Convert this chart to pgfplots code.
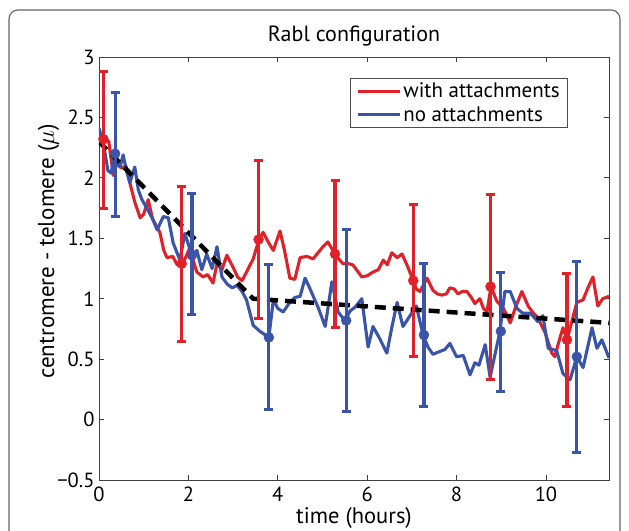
\documentclass[border=0pt]{standalone}
\usepackage{fontspec}
\setmainfont{PT Sans}
\usepackage{pgfplots}
\pgfplotsset{compat=1.18}
\definecolor{cred}{RGB}{224,34,40}
\definecolor{cblue}{RGB}{58,84,170}
\definecolor{frame}{RGB}{100,100,100}
\begin{document}
\begin{tikzpicture}[x=1pt,y=1pt]
\useasboundingbox (0,0) rectangle (629,530);
\draw[frame, line width=1.1pt, rounded corners=9pt] (9,-20) rectangle (620,520);
\begin{axis}[
  at={(99pt,50pt)}, anchor=south west,
  scale only axis, width=510pt, height=423pt,
  xmin=0, xmax=11.41, ymin=-0.5, ymax=3,
  xtick={0,2,4,6,8,10},
  ytick={-0.5,0,0.5,1,1.5,2,2.5,3},
  yticklabels={−0.5,0,0.5,1,1.5,2,2.5,3},
  xticklabels={0,2,4,6,8,10},
  tick align=inside, major tick length=5pt,
  axis line style={draw=black!75, line width=0.9pt},
  tick style={draw=black!75, line width=0.9pt},
  tick label style={font=\fontsize{20.5}{24}\selectfont},
  yticklabel style={xshift=-1pt},
  xticklabel style={yshift=-3pt},
  title={Rabl configuration},
  title style={at={(axis description cs:0.5,1.022)}, anchor=base, font=\fontsize{22}{26}\selectfont},
  xlabel={time (hours)},
  xlabel style={at={(axis description cs:0.5,-0.104)}, anchor=base, font=\fontsize{22.5}{26}\selectfont},
  ylabel={centromere - telomere ($\mu$)},
  ylabel style={at={(axis description cs:-0.088,0.54)}, anchor=base, font=\fontsize{23}{26}\selectfont},
  legend style={at={(axis description cs:0.92,0.951)}, anchor=north east, draw=black!70, line width=0.8pt,
    font=\fontsize{21}{25}\selectfont, inner xsep=6pt, inner ysep=3pt, row sep=3pt, cells={anchor=west}},
  legend image code/.code={\draw[#1] (0pt,0pt) -- (42pt,0pt);},
]
\addplot[cred, line width=3.1pt, line join=round] coordinates {
(0.00,2.33)(0.10,2.33)(0.22,2.30)(0.32,2.02)(0.40,2.12)(0.50,2.08)(0.60,2.10)(0.69,1.96)
(0.80,1.80)(0.92,1.67)(1.00,1.70)(1.10,1.82)(1.20,1.66)(1.36,1.55)(1.45,1.40)(1.52,1.34)
(1.65,1.35)(1.75,1.28)(1.86,1.29)(1.95,1.35)(2.04,1.43)(2.12,1.30)(2.19,1.22)(2.33,1.18)
(2.43,1.20)(2.55,1.13)(2.64,1.29)(2.75,1.24)(2.86,1.36)(3.00,1.26)(3.10,1.18)(3.20,1.15)
(3.30,1.22)(3.45,1.33)(3.58,1.49)(3.67,1.55)(3.80,1.46)(3.90,1.40)(4.05,1.56)(4.15,1.40)
(4.27,1.17)(4.38,1.16)(4.50,1.34)(4.65,1.35)(4.79,1.33)(4.90,1.38)(5.01,1.43)(5.12,1.47)
(5.28,1.37)(5.36,1.33)(5.46,1.29)(5.58,1.29)(5.68,1.28)(5.78,1.23)(5.88,1.18)(6.00,1.19)
(6.13,1.22)(6.25,1.24)(6.36,1.32)(6.45,1.28)(6.55,1.38)(6.67,1.34)(6.78,1.37)(6.90,1.27)
(7.03,1.15)(7.10,1.08)(7.18,1.06)(7.34,1.17)(7.47,1.07)(7.57,1.04)(7.67,1.03)(7.77,1.04)
(7.85,1.09)(7.95,1.08)(8.03,1.04)(8.13,1.06)(8.23,1.06)(8.33,1.01)(8.41,0.96)(8.52,1.00)
(8.60,0.92)(8.68,0.89)(8.77,1.10)(8.90,0.98)(9.05,0.92)(9.20,0.80)(9.31,0.92)(9.46,1.06)
(9.60,0.94)(9.72,0.88)(9.82,0.84)(9.98,0.72)(10.13,0.55)(10.20,0.52)(10.27,0.62)(10.38,0.76)
(10.47,0.66)(10.60,0.84)(10.69,0.97)(10.83,0.99)(10.95,1.10)(11.05,1.18)(11.16,0.94)(11.27,1.00)
(11.41,1.02)
};
\addlegendentry{with attachments}
\addplot[cblue, line width=3.1pt, line join=round] coordinates {
(0.00,2.41)(0.10,2.28)(0.20,2.06)(0.27,2.04)(0.36,2.20)(0.47,2.09)(0.54,2.19)(0.62,2.05)
(0.69,1.96)(0.80,2.09)(0.88,1.90)(0.96,1.82)(1.10,1.73)(1.20,1.66)(1.30,1.57)(1.44,1.68)
(1.55,1.67)(1.66,1.46)(1.81,1.32)(1.92,1.54)(2.08,1.36)(2.19,1.40)(2.30,1.24)(2.41,1.37)
(2.53,1.25)(2.64,1.43)(2.75,1.18)(2.87,1.12)(2.98,1.09)(3.09,1.11)(3.20,1.06)(3.30,0.99)
(3.45,0.78)(3.60,0.73)(3.80,0.68)(3.90,0.99)(4.00,0.92)(4.12,0.89)(4.25,0.96)(4.38,1.01)
(4.50,1.02)(4.61,1.17)(4.70,1.10)(4.77,1.04)(4.90,0.93)(5.06,0.77)(5.21,1.14)(5.35,0.89)
(5.50,0.82)(5.62,0.90)(5.73,0.93)(5.88,1.00)(6.02,0.60)(6.13,0.77)(6.28,0.67)(6.44,0.55)
(6.55,0.76)(6.67,0.97)(6.80,0.77)(6.96,0.86)(7.10,0.94)(7.25,0.70)(7.36,0.60)(7.47,0.54)
(7.60,0.56)(7.74,0.58)(7.85,0.63)(8.00,0.52)(8.15,0.53)(8.30,0.37)(8.41,0.47)(8.50,0.45)
(8.64,0.62)(8.75,0.35)(8.97,0.73)(9.08,1.06)(9.20,1.06)(9.35,0.92)(9.48,0.88)(9.65,0.88)
(9.82,0.81)(9.93,0.86)(10.05,0.59)(10.24,0.57)(10.38,0.38)(10.54,0.33)(10.69,0.52)(10.83,0.43)
(11.03,0.76)(11.14,0.59)(11.25,0.66)(11.41,0.51)
};
\addlegendentry{no attachments}
\addplot[black, line width=4.5pt, dash pattern=on 11pt off 7pt, forget plot] coordinates {
(0,2.30)(3.45,1.00)(11.41,0.80)
};
\addplot[cred, only marks, mark=*, mark size=5pt, forget plot,
  error bars/.cd, y dir=both, y explicit, error mark=-,
  error bar style={line width=3.1pt, cred},
  error mark options={rotate=90, line width=3pt, mark size=4.5pt, cred}]
coordinates {
(0.10,2.32) += (0,0.56) -= (0,0.57)
(1.85,1.29) += (0,0.64) -= (0,0.64)
(3.57,1.49) += (0,0.65) -= (0,0.65)
(5.28,1.37) += (0,0.61) -= (0,0.61)
(7.03,1.15) += (0,0.63) -= (0,0.63)
(8.76,1.10) += (0,0.76) -= (0,0.77)
(10.47,0.66) += (0,0.55) -= (0,0.55)
};
\addplot[cblue, only marks, mark=*, mark size=5pt, forget plot,
  error bars/.cd, y dir=both, y explicit, error mark=-,
  error bar style={line width=3.1pt, cblue},
  error mark options={rotate=90, line width=3pt, mark size=4.5pt, cblue}]
coordinates {
(0.36,2.20) += (0,0.51) -= (0,0.52)
(2.08,1.36) += (0,0.51) -= (0,0.49)
(3.80,0.68) += (0,0.60) -= (0,0.60)
(5.53,0.82) += (0,0.75) -= (0,0.75)
(7.27,0.70) += (0,0.59) -= (0,0.59)
(8.99,0.73) += (0,0.49) -= (0,0.50)
(10.69,0.52) += (0,0.79) -= (0,0.79)
};
\end{axis}
\end{tikzpicture}
\end{document}
